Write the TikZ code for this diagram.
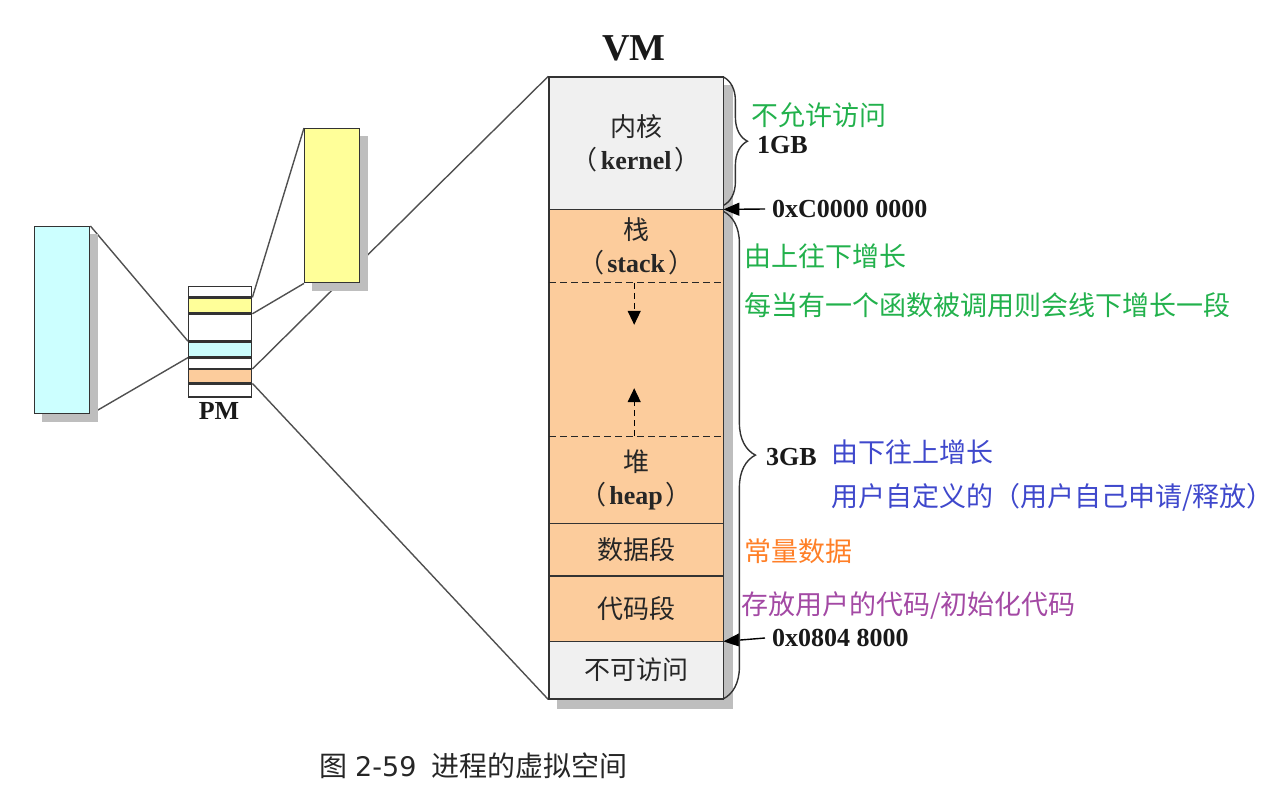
\documentclass[tikz,border=0pt]{standalone}
\usepackage{fontspec}
\setmainfont{Liberation Serif}
\newfontfamily\cjk{Noto Sans CJK SC}
\newfontfamily\dejavu{DejaVu Sans}
\usetikzlibrary{arrows.meta,decorations.pathreplacing,backgrounds,fit}
\definecolor{cyanfill}{RGB}{204,255,255}
\definecolor{yellowfill}{RGB}{255,255,153}
\definecolor{peach}{RGB}{252,204,156}
\definecolor{kgray}{RGB}{240,240,240}
\definecolor{shadowgray}{RGB}{190,190,190}
\definecolor{edgegray}{RGB}{51,51,51}
\definecolor{wiregray}{RGB}{80,80,80}
\definecolor{ngreen}{RGB}{34,177,76}
\definecolor{nblue}{RGB}{63,72,204}
\definecolor{norange}{RGB}{255,127,39}
\definecolor{npurple}{RGB}{163,73,164}
\newcommand{\paren}[1]{{\cjk （}\hspace{3pt}\textbf{#1}\hspace{3pt}{\cjk ）}}

\begin{document}
\begin{tikzpicture}[x=1pt,y=-1pt,
  box/.style={draw=edgegray, line width=1.4pt, inner sep=0pt, anchor=north west},
  band/.style={box, minimum width=63pt},
  seg/.style={inner sep=0pt, anchor=north west, minimum width=174pt,
    text=black!85, align=center, font=\fontsize{26}{33}\selectfont},
  wire/.style={draw=wiregray, line width=1.4pt},
  note/.style={anchor=west, inner sep=0pt, font=\cjk\fontsize{27}{30}\selectfont},
  latinbold/.style={font=\bfseries\fontsize{26}{30}\selectfont, text=black!90},
  addr/.style={latinbold, anchor=west, inner xsep=7pt, inner ysep=0pt},
  addrarrow/.style={-{Triangle[length=16pt,width=13pt]}, line width=1.4pt, draw=black},
  divider/.style={draw=edgegray, line width=1.4pt},
  dashdivider/.style={draw=black!85, line width=1.3pt, dash pattern=on 7pt off 4pt},
  growth/.style={line width=1.3pt, dash pattern=on 6pt off 4pt,
    -{Triangle[length=14pt,width=13pt]}},
  gbrace/.style={decorate, line width=1.4pt, draw=edgegray}
]
\useasboundingbox (0,0) rectangle (1279,791);

% physical memory: two outside blocks and the PM column
\node[box, fill=cyanfill, minimum width=55pt, minimum height=187pt] (cyanbox) at (34,226) {};
\node[box, fill=yellowfill, minimum width=55pt, minimum height=154pt] (yellowbox) at (304,128) {};

\node[band, fill=white, minimum height=10pt] (pm1) at (188,286) {};
\node[band, fill=yellowfill, minimum height=15pt] (pmY) at (pm1.south west) {};
\node[band, fill=white, minimum height=26pt] (pm2) at (pmY.south west) {};
\node[band, fill=cyanfill, minimum height=15pt] (pmC) at (pm2.south west) {};
\node[band, fill=white, minimum height=10pt] (pm3) at (pmC.south west) {};
\node[band, fill=peach, minimum height=13pt] (pmO) at (pm3.south west) {};
\node[band, fill=white, minimum height=13pt] (pm4) at (pmO.south west) {};
\node[latinbold] (pmtitle) at (219,411) {PM};

% virtual memory segments
\node[seg, fill=kgray, minimum height=132pt] (kernel) at (549,77)
  {{\cjk 内核}\\\paren{kernel}};
\node[seg, fill=peach, minimum height=73pt] (stack) at (kernel.south west)
  {{\cjk 栈}\\\paren{stack}};
\node[seg, fill=peach, minimum height=153pt] (gap) at (stack.south west) {};
\node[seg, fill=peach, minimum height=87pt] (heap) at (gap.south west)
  {{\cjk 堆}\\\paren{heap}};
\node[seg, fill=peach, minimum height=52pt] (data) at (heap.south west) {\cjk 数据段};
\node[seg, fill=peach, minimum height=65pt] (code) at (data.south west) {\cjk 代码段};
\node[seg, fill=kgray, minimum height=57pt] (noacc) at (code.south west) {\cjk 不可访问};
\node[fit=(kernel)(noacc), inner sep=0pt, draw=edgegray, line width=1.4pt] (vm) {};
\node[font=\bfseries\fontsize{38}{40}\selectfont, text=black!90] (vmtitle) at (634,48) {VM};

% segment boundaries
\draw[divider] (kernel.south west) -- (kernel.south east);
\draw[dashdivider] (stack.south west) -- (stack.south east);
\draw[dashdivider] (gap.south west) -- (gap.south east);
\draw[divider] (heap.south west) -- (heap.south east);
\draw[divider] (data.south west) -- (data.south east);
\draw[divider] (code.south west) -- (code.south east);

% growth directions of stack and heap
\draw[growth] ([xshift=-2pt]gap.north) -- ([xshift=-2pt,yshift=-42pt]gap.north);
\draw[growth] ([xshift=-2pt]gap.south) -- ([xshift=-2pt,yshift=48pt]gap.south);

% connectors and shadows behind the blocks
\begin{scope}[on background layer]
\draw[wire] (cyanbox.north east) -- (pmC.north west);
\draw[wire] (cyanbox.south east) -- (pmC.south west);
\draw[wire] (yellowbox.north west) -- (pmY.north east);
\draw[wire] (yellowbox.south west) -- (pmY.south east);
\draw[wire] (vm.north west) -- (pmO.north east);
\draw[wire] (vm.south west) -- (pmO.south east);
\fill[shadowgray] ([shift={(8,8)}]cyanbox.north west) rectangle ([shift={(8,8)}]cyanbox.south east);
\fill[shadowgray] ([shift={(8,8)}]yellowbox.north west) rectangle ([shift={(8,8)}]yellowbox.south east);
\fill[shadowgray] ([shift={(9,9)}]vm.north west) rectangle ([shift={(9,9)}]vm.south east);
\end{scope}

% address markers
\node[addr] (hiaddr) at (765,209) {0xC0000 0000};
\node[addr] (loaddr) at (765,638) {0x0804 8000};
\draw[addrarrow] (hiaddr.west) -- (kernel.south east);
\draw[addrarrow] (loaddr.west) -- (code.south east);

% size braces
\draw[gbrace, decoration={brace, amplitude=24pt}] (kernel.north east) -- ([yshift=4pt]kernel.south east);
\draw[gbrace, decoration={brace, amplitude=32pt}] ([yshift=-2pt]stack.north east) -- (noacc.south east);
\node[latinbold, anchor=west, inner sep=0pt] (gb1) at (757,145) {1GB};
\node[latinbold, anchor=west, inner sep=0pt] (gb3) at (766,457) {3GB};

% annotations
\node[note, text=ngreen] (n1) at (751,115) {不允许访问};
\node[note, text=ngreen] (n2) at (744,256) {由上往下增长};
\node[note, text=ngreen] (n3) at (744,305) {每当有一个函数被调用则会线下增长一段};
\node[note, text=nblue] (n4) at (831,452) {由下往上增长};
\node[note, text=nblue] (n5) at (831,497) {用户自定义的（用户自己申请/释放）};
\node[note, text=norange] (n6) at (744,551) {常量数据};
\node[note, text=npurple] (n7) at (741,606) {存放用户的代码/初始化代码};

% caption
\node[anchor=west, inner sep=0pt, text=black!85] (caption) at (319,766)
  {\cjk\fontsize{28}{30}\selectfont 图\hspace{8pt}{\dejavu\fontsize{27}{30}\selectfont 2-59}\hspace{15pt}进程的虚拟空间};
\end{tikzpicture}
\end{document}
